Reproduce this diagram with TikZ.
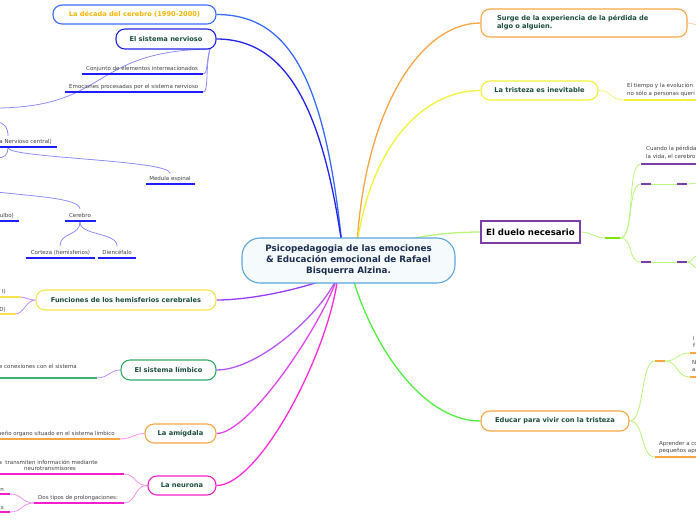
\documentclass[tikz,border=0pt]{standalone}
\usepackage{fontspec}
\setmainfont{DejaVu Sans}
\usetikzlibrary{backgrounds}
\definecolor{tgreen}{HTML}{1B4D3E}
\definecolor{leafgray}{HTML}{404040}
\definecolor{cblue}{HTML}{5AA5DC}
\definecolor{cfill}{HTML}{F5FAFD}
\definecolor{navy}{HTML}{1C2D50}
\definecolor{decb}{HTML}{3A6BFF}
\definecolor{dectext}{HTML}{F7B500}
\definecolor{nerv}{HTML}{2222E8}
\definecolor{lav}{HTML}{8C8CFF}
\definecolor{ublue}{HTML}{1E1EFF}
\definecolor{yel}{HTML}{F7E44A}
\definecolor{purp}{HTML}{9A3CFF}
\definecolor{lpurp}{HTML}{C08AFF}
\definecolor{limg}{HTML}{33AA66}
\definecolor{lilac}{HTML}{B655F5}
\definecolor{orng}{HTML}{F5A645}
\definecolor{pinkc}{HTML}{E045F0}
\definecolor{lpink}{HTML}{F590F0}
\definecolor{mag}{HTML}{F21FCC}
\definecolor{mag2}{HTML}{FF2AD8}
\definecolor{yl2}{HTML}{F2F23A}
\definecolor{lgreen}{HTML}{B8F57A}
\definecolor{green2}{HTML}{50F040}
\definecolor{dpurp}{HTML}{7A3DAA}
\definecolor{gbright}{HTML}{7FE600}
\definecolor{ugreen}{HTML}{3CB371}
\begin{document}
\begin{tikzpicture}[x=1pt,y=-1pt,
  topic/.style={draw, line width=1.1pt, rounded corners=9pt, fill=white, inner sep=0pt,
    font=\fontsize{6.65}{8}\selectfont\bfseries, text=tgreen},
  leaf/.style={font=\fontsize{5.5}{7.4}\selectfont, text=leafgray, inner sep=0pt, align=left},
  uline/.style={line width=1.6pt},
  conn/.style={line width=0.8pt},
  mainconn/.style={line width=1.3pt},
]
\useasboundingbox (0,0) rectangle (696,520);

% ---------- main nodes ----------
\node[draw=cblue, fill=cfill, line width=1.1pt, rounded corners=18pt, minimum width=213pt,
  minimum height=45pt, inner sep=0pt, align=center, font=\fontsize{8.8}{11}\selectfont\bfseries,
  text=navy] (c) at (348.5,260.5) {Psicopedagogia de las emociones\\ \& Educación emocional de Rafael\\ Bisquerra Alzina.};
\node[topic, draw=decb, text=dectext, minimum width=163pt, minimum height=19pt] (dec) at (134.5,14.5) {La década del cerebro (1990-2000)};
\node[topic, draw=nerv, minimum width=100pt, minimum height=20pt] (nerv) at (166,39) {El sistema nervioso};
\node[topic, draw=yel, minimum width=180pt, minimum height=20pt] (fun) at (126,300) {Funciones de los hemisferios cerebrales};
\node[topic, draw=limg, minimum width=95pt, minimum height=20pt] (lim) at (168.5,370) {El sistema límbico};
\node[topic, draw=orng, minimum width=71pt, minimum height=19pt] (amig) at (180.5,433.5) {La amígdala};
\node[topic, draw=mag, minimum width=68pt, minimum height=19pt] (neu) at (182,485.5) {La neurona};
\node[topic, draw=orng, minimum width=206pt, minimum height=28pt, text width=174pt, inner xsep=16pt, align=left] (surge) at (584,23) {Surge de la experiencia de la pérdida de\\algo o alguien.};
\node[topic, draw=yl2, minimum width=117pt, minimum height=19pt] (tris) at (539.5,90.5) {La tristeza es inevitable};
\node[draw=dpurp, fill=white, line width=1.1pt, minimum width=99pt, minimum height=22pt, inner sep=0pt,
  font=\fontsize{8.6}{10}\selectfont\bfseries, text=black] (duelo) at (530.5,232) {El duelo necesario};
\node[topic, draw=orng, minimum width=148pt, minimum height=20pt] (edu) at (555,421) {Educar para vivir con la tristeza};

% start points inside the central node
\coordinate (sTL) at (342,245);
\coordinate (sTR) at (357,245);
\coordinate (sR) at (395,245);
\coordinate (sBL) at (338,275);
\coordinate (sBR) at (352,275);

% ---------- leaves: sistema nervioso ----------
\node[leaf, anchor=base west] (n1) at (86,70) {Conjunto de elementos interreacionados};
\coordinate (n1a) at (82,74); \coordinate (n1b) at (203,74);
\node[leaf, anchor=base west] (n2) at (69,88) {Emociones procesadas por el sistema nervioso};
\coordinate (n2a) at (65,92); \coordinate (n2b) at (203,92);
\coordinate (nout) at (-3,108);
\coordinate (nst) at (210,49);

\node[leaf, anchor=base east] (snc) at (52,143) {a Nervioso central)};
\coordinate (snca) at (-5,147); \coordinate (sncb) at (57,147);
\coordinate (sncin) at (-3,122); \coordinate (snctop) at (8,136); \coordinate (sncbot) at (8,148);
\coordinate (sncout) at (-3,158);
\node[leaf, anchor=base] (med) at (170,180) {Medula espinal};
\coordinate (meda) at (146,184); \coordinate (medb) at (195,184); \coordinate (medtop) at (170,173);

\node[leaf, anchor=base east] (bul) at (14,217) {ulbo)};
\coordinate (bula) at (-5,221); \coordinate (bulb) at (19,221);
\node[leaf, anchor=base] (cer) at (80,217) {Cerebro};
\coordinate (cera) at (65,221); \coordinate (cerb) at (96,221);
\coordinate (certop) at (80,209); \coordinate (cerbot) at (80,222);
\coordinate (cerin) at (-3,192);
\node[leaf, anchor=base] (cor) at (60.5,254) {Corteza (hemisferios)};
\coordinate (cora) at (26,258); \coordinate (corb) at (95,258); \coordinate (cortop) at (60,246);
\node[leaf, anchor=base] (die) at (117,254) {Diencéfalo};
\coordinate (diea) at (98,258); \coordinate (dieb) at (136,258); \coordinate (dietop) at (117,246);

% ---------- leaves: funciones ----------
\node[leaf, anchor=base east] (hi) at (6,293) {I)};
\coordinate (hia) at (-5,297); \coordinate (hib) at (20,297);
\node[leaf, anchor=base east] (hd) at (6,311) {D)};
\coordinate (hda) at (-5,314); \coordinate (hdb) at (15,314);

% ---------- leaves: limbico, amigdala ----------
\node[leaf, anchor=base east] (lc) at (77,368) {e conexiones con el sistema};
\coordinate (lca) at (-5,378); \coordinate (lcb) at (97,378);
\node[leaf, anchor=base east] (am) at (115,435) {ueño organo situado en el sistema límbico};
\coordinate (ama) at (-5,439); \coordinate (amb) at (120,439);

% ---------- leaves: neurona ----------
\node[leaf, anchor=base east] (ne1) at (98,464) {a\ \ transmiten información mediante};
\node[leaf, anchor=base] (ne1b) at (50,470.5) {neurotransmisores};
\coordinate (ne1a) at (-5,474); \coordinate (ne1c) at (124,474);
\node[leaf, anchor=base west] (ne2) at (38,499) {Dos tipos de prolongaciones:};
\coordinate (ne2a) at (34,503); \coordinate (ne2b) at (124,503);
\node[leaf, anchor=base east] (pn) at (4,491) {n};
\coordinate (pna) at (-5,494); \coordinate (pnb) at (10,494);
\node[leaf, anchor=base east] (ps) at (4,509) {s};
\coordinate (psa) at (-5,512); \coordinate (psb) at (10,512);

% ---------- right leaves ----------
\coordinate (surout) at (698,25);
\node[leaf, anchor=north west] (tl) at (627,83) {El tiempo y la evolución\\no sólo a personas queri};
\coordinate (tla) at (624,100); \coordinate (tlb) at (700,100);

\coordinate (dj1) at (605,238); \coordinate (dj2) at (620,238);
\node[leaf, anchor=north west] (cu) at (646,146) {Cuando la pérdida\\la vida, el cerebro};
\coordinate (cua) at (641,164); \coordinate (cub) at (700,164);
\coordinate (m1a) at (641,184); \coordinate (m1b) at (651,184); \coordinate (m1c) at (677,184); \coordinate (m1d) at (687,184); \coordinate (m1e) at (698,183);
\coordinate (m2a) at (641,262); \coordinate (m2b) at (651,262); \coordinate (m2c) at (677,262); \coordinate (m2d) at (687,262);
\coordinate (m2e) at (698,256); \coordinate (m2f) at (698,268);

\coordinate (e1a) at (655,361); \coordinate (e1b) at (665,361);
\node[leaf, anchor=north west] (ex1) at (693,336) {l\\f};
\coordinate (ex1a) at (690,353); \coordinate (ex1b) at (700,353);
\node[leaf, anchor=north west] (ex2) at (692,360) {N\\a};
\coordinate (ex2a) at (690,377); \coordinate (ex2b) at (700,377);
\node[leaf, anchor=north west] (apr) at (659,441) {Aprender a co\\pequeños apr};
\coordinate (apra) at (655,457); \coordinate (aprb) at (700,457);

% ---------- connectors (behind nodes) ----------
\begin{scope}[on background layer]
% main
\draw[mainconn, decb] (sTL) .. controls (325,80) and (290,14.5) .. (dec.east);
\draw[mainconn, nerv] (sTL) .. controls (322,105) and (285,39) .. (nerv.east);
\draw[mainconn, orng] (sTR) .. controls (365,110) and (420,23) .. (surge.west);
\draw[mainconn, yl2] (sTR) .. controls (370,150) and (420,90.5) .. (tris.west);
\draw[mainconn, lgreen] (sR) .. controls (410,236) and (450,232) .. (duelo.west);
\draw[mainconn, green2] (sBR) .. controls (370,340) and (420,421) .. (edu.west);
\draw[mainconn, purp] (sBL) .. controls (300,290) and (250,300) .. (fun.east);
\draw[mainconn, lilac] (sBL) .. controls (325,310) and (260,370) .. (lim.east);
\draw[mainconn, pinkc] (sBL) .. controls (325,320) and (250,433.5) .. (amig.east);
\draw[mainconn, mag2] (sBL) .. controls (330,350) and (260,485.5) .. (neu.east);

% sistema nervioso subtree
\draw[conn, lav] (nst) .. controls (206,62) and (208,74) .. (n1b);
\draw[conn, lav] (nst) .. controls (205,70) and (209,92) .. (n2b);
\draw[conn, lav] (nst) .. controls (90,51) and (110,107) .. (nout);
\draw[conn, lav] (sncin) .. controls (5,123) and (8,128) .. (snctop);
\draw[conn, lav] (sncbot) .. controls (8,155) and (4,158) .. (sncout);
\draw[conn, lav] (sncbot) .. controls (10,158) and (168,160) .. (medtop);
\draw[conn, lav] (cerin) .. controls (30,196) and (80,198) .. (certop);
\draw[conn, lav] (cerbot) .. controls (80,236) and (60,232) .. (cortop);
\draw[conn, lav] (cerbot) .. controls (80,236) and (117,232) .. (dietop);

% funciones
\draw[conn, lpurp] (fun.west) .. controls (28,300) and (26,297) .. (hib);
\draw[conn, lpurp] (fun.west) .. controls (26,300) and (24,314) .. (hdb);
% limbico, amigdala
\draw[conn, lpurp] (lim.west) .. controls (110,370) and (108,378) .. (lcb);
\draw[conn, lpink] (amig.west) .. controls (134,433.5) and (132,439) .. (amb);
% neurona
\draw[conn, lpink] (neu.west) .. controls (134,485.5) and (136,474) .. (ne1c);
\draw[conn, lpink] (neu.west) .. controls (134,485.5) and (136,503) .. (ne2b);
\draw[conn, lpink] (ne2a) .. controls (22,503) and (22,494) .. (pnb);
\draw[conn, lpink] (ne2a) .. controls (22,503) and (22,512) .. (psb);

% right side
\draw[conn, orng!55] (surge.east) .. controls (692,23) and (694,25) .. (surout);
\draw[conn, yl2!70] (tris.east) .. controls (612,90.5) and (610,100) .. (tla);
\draw[conn, lgreen] (duelo.east) .. controls (592,232) and (594,238) .. (dj1);
\draw[conn, lgreen] (dj2) .. controls (636,238) and (626,164) .. (cua);
\draw[conn, lgreen] (dj2) .. controls (634,238) and (627,184) .. (m1a);
\draw[conn, lgreen] (dj2) .. controls (634,238) and (627,262) .. (m2a);
\draw[conn, lgreen] (m1b) -- (m1c);
\draw[conn, lgreen] (m1d) .. controls (692,184) and (694,183) .. (m1e);
\draw[conn, lgreen] (m2b) -- (m2c);
\draw[conn, lgreen] (m2d) .. controls (693,262) and (692,256) .. (m2e);
\draw[conn, lgreen] (m2d) .. controls (693,262) and (692,268) .. (m2f);
\draw[conn, lgreen] (edu.east) .. controls (645,421) and (640,361) .. (e1a);
\draw[conn, lgreen] (edu.east) .. controls (645,421) and (640,457) .. (apra);
\draw[conn, lgreen] (e1b) .. controls (678,361) and (676,353) .. (ex1a);
\draw[conn, lgreen] (e1b) .. controls (678,361) and (676,377) .. (ex2a);
\end{scope}

% ---------- underlines ----------
\draw[uline, ublue] (n1a) -- (n1b);
\draw[uline, ublue] (n2a) -- (n2b);
\draw[uline, ublue] (snca) -- (sncb);
\draw[uline, ublue] (meda) -- (medb);
\draw[uline, ublue] (bula) -- (bulb);
\draw[uline, ublue] (cera) -- (cerb);
\draw[uline, ublue] (cora) -- (corb);
\draw[uline, ublue] (diea) -- (dieb);
\draw[uline, yel, line cap=round] (hia) -- (hib);
\draw[uline, yel, line cap=round] (hda) -- (hdb);
\draw[uline, ugreen] (lca) -- (lcb);
\draw[uline, orng] (ama) -- (amb);
\draw[uline, mag] (ne1a) -- (ne1c);
\draw[uline, mag] (ne2a) -- (ne2b);
\draw[uline, mag] (pna) -- (pnb);
\draw[uline, mag] (psa) -- (psb);
\draw[uline, yl2] (tla) -- (tlb);
\draw[uline, gbright] (dj1) -- (dj2);
\draw[uline, dpurp] (cua) -- (cub);
\draw[uline, dpurp] (m1a) -- (m1b);
\draw[uline, dpurp] (m1c) -- (m1d);
\draw[uline, dpurp] (m2a) -- (m2b);
\draw[uline, dpurp] (m2c) -- (m2d);
\draw[uline, orng] (e1a) -- (e1b);
\draw[uline, orng] (ex1a) -- (ex1b);
\draw[uline, orng] (ex2a) -- (ex2b);
\draw[uline, orng] (apra) -- (aprb);
\end{tikzpicture}
\end{document}
